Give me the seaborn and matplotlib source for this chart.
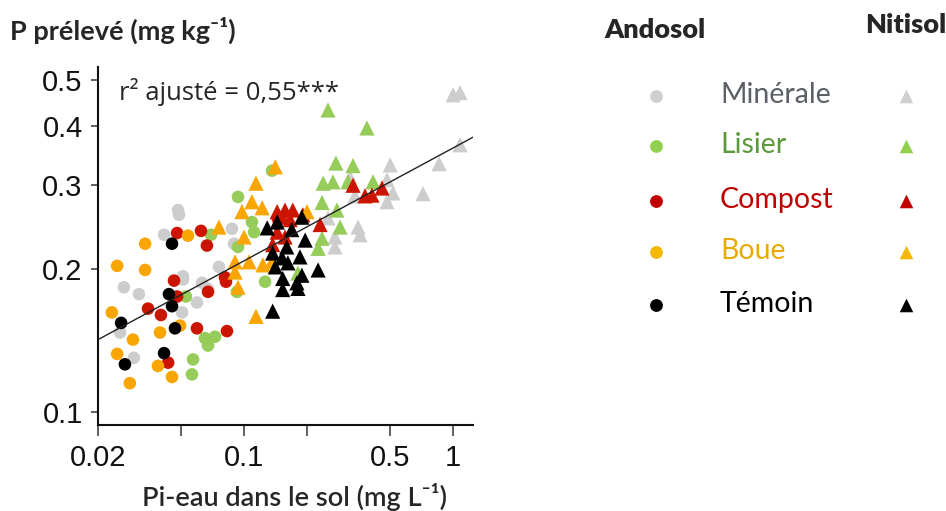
import numpy as np
import pandas as pd
import matplotlib
matplotlib.use("Agg")
import matplotlib.pyplot as plt
import seaborn as sns
from matplotlib.ticker import FixedLocator, FixedFormatter, NullLocator

# ---------------- data ----------------
treatments = ["Minérale", "Lisier", "Compost", "Boue", "Témoin"]

# Andosol (circles)
ando_min_x = [0.0483, 0.0488, 0.0414, 0.0875, 0.0895, 0.0758, 0.051, 0.051, 0.0266, 0.0314, 0.0595, 0.0629, 0.0672, 0.0505, 0.0255, 0.0297]
ando_min_y = [0.266, 0.260, 0.236, 0.243, 0.226, 0.202, 0.193, 0.190, 0.183, 0.177, 0.170, 0.187, 0.1815, 0.162, 0.147, 0.130]
ando_lis_x = [0.136, 0.0935, 0.109, 0.1116, 0.0695, 0.0935, 0.0925, 0.126, 0.0527, 0.065, 0.0726, 0.0672, 0.057, 0.0563]
ando_lis_y = [0.322, 0.2835, 0.251, 0.239, 0.236, 0.2225, 0.179, 0.188, 0.175, 0.143, 0.144, 0.138, 0.129, 0.120]
ando_com_x = [0.0478, 0.0622, 0.0664, 0.0462, 0.0478, 0.0672, 0.081, 0.0819, 0.0347, 0.040, 0.0595, 0.0828, 0.0433, 0.145]
ando_com_y = [0.238, 0.2405, 0.224, 0.189, 0.175, 0.179, 0.192, 0.188, 0.165, 0.160, 0.150, 0.148, 0.127, 0.255]
ando_bou_x = [0.0247, 0.0336, 0.0336, 0.0539, 0.0233, 0.0494, 0.0294, 0.0396, 0.0247, 0.0387, 0.0284, 0.0452]
ando_bou_y = [0.203, 0.226, 0.199, 0.235, 0.162, 0.152, 0.142, 0.147, 0.1325, 0.125, 0.115, 0.1185]
ando_tem_x = [0.0452, 0.0437, 0.0452, 0.0258, 0.0467, 0.0414, 0.0269]
ando_tem_y = [0.226, 0.177, 0.167, 0.154, 0.150, 0.133, 0.126]

# Nitisol (triangles)
niti_min_x = [1.0, 1.079, 1.079, 0.857, 0.5, 0.483, 0.516, 0.718, 0.483, 0.339, 0.321, 0.351, 0.359, 0.272, 0.272, 0.252]
niti_min_y = [0.465, 0.470, 0.365, 0.333, 0.331, 0.308, 0.289, 0.288, 0.277, 0.285, 0.312, 0.245, 0.236, 0.2335, 0.2225, 0.256]
niti_lis_x = [0.252, 0.387, 0.275, 0.332, 0.239, 0.266, 0.314, 0.414, 0.236, 0.278, 0.288, 0.236, 0.226, 0.181]
niti_lis_y = [0.432, 0.396, 0.334, 0.330, 0.303, 0.305, 0.305, 0.305, 0.276, 0.266, 0.245, 0.232, 0.221, 0.196]
niti_com_x = [0.144, 0.157, 0.171, 0.191, 0.152, 0.166, 0.231, 0.144, 0.157, 0.137, 0.332, 0.409, 0.457, 0.379]
niti_com_y = [0.264, 0.266, 0.266, 0.260, 0.257, 0.254, 0.248, 0.239, 0.2335, 0.225, 0.300, 0.286, 0.296, 0.285]
niti_bou_x = [0.141, 0.114, 0.109, 0.122, 0.0977, 0.0758, 0.100, 0.200, 0.0905, 0.1056, 0.123, 0.0905, 0.0935, 0.114, 0.136]
niti_bou_y = [0.328, 0.303, 0.277, 0.269, 0.264, 0.245, 0.2335, 0.264, 0.207, 0.207, 0.204, 0.197, 0.183, 0.159, 0.207]
niti_tem_x = [0.129, 0.144, 0.189, 0.169, 0.196, 0.160, 0.137, 0.152, 0.185, 0.162, 0.141, 0.226, 0.189, 0.153, 0.179, 0.153, 0.181, 0.137]
niti_tem_y = [0.244, 0.251, 0.257, 0.242, 0.230, 0.2225, 0.216, 0.211, 0.212, 0.206, 0.202, 0.199, 0.194, 0.191, 0.187, 0.181, 0.182, 0.163]

# reported fit (log10 y = a + b log10 x)
fit_a = -0.4444
fit_b = 0.2374
r2_text = "r² ajusté = 0,55***"

x_ticks = [0.02, 0.05, 0.1, 0.2, 0.5, 1]
x_ticklabels = ["0.02", "", "0.1", "", "0.5", "1"]
y_ticks = [0.1, 0.2, 0.3, 0.4, 0.5]
y_ticklabels = ["0.1", "0.2", "0.3", "0.4", "0.5"]

colors = {"Minérale": "#cdcdcd", "Lisier": "#95cc5a", "Compost": "#cc1500",
          "Boue": "#f9a602", "Témoin": "#000000"}
legend_marker_colors = {"Minérale": "#cfcfcf", "Lisier": "#92d050", "Compost": "#c00000",
                        "Boue": "#f5b800", "Témoin": "#000000"}
label_colors = {"Minérale": "#5b5f66", "Lisier": "#5a9a3a", "Compost": "#c00000",
                "Boue": "#e8aa00", "Témoin": "#000000"}

ando = {"Minérale": (ando_min_x, ando_min_y), "Lisier": (ando_lis_x, ando_lis_y),
        "Compost": (ando_com_x, ando_com_y), "Boue": (ando_bou_x, ando_bou_y),
        "Témoin": (ando_tem_x, ando_tem_y)}
niti = {"Minérale": (niti_min_x, niti_min_y), "Lisier": (niti_lis_x, niti_lis_y),
        "Compost": (niti_com_x, niti_com_y), "Boue": (niti_bou_x, niti_bou_y),
        "Témoin": (niti_tem_x, niti_tem_y)}

def build(d, sol, order):
    rows = []
    for t in order:
        xs, ys = d[t]
        for a, b in zip(xs, ys):
            rows.append({"x": a, "y": b, "traitement": t, "sol": sol})
    return pd.DataFrame(rows)

df_a = build(ando, "Andosol", ["Minérale", "Lisier", "Compost", "Boue", "Témoin"])
df_n = build(niti, "Nitisol", ["Minérale", "Lisier", "Compost", "Boue", "Témoin"])

# ---------------- figure ----------------
sns.set_style("ticks")
plt.rcParams["font.family"] = ["Liberation Sans", "DejaVu Sans"]

W, H = 946, 511
fig = plt.figure(figsize=(W / 100, H / 100), dpi=100)
ax = fig.add_axes([98 / W, 1 - 425 / H, (473 - 98) / W, (425 - 67) / H])

sns.scatterplot(data=df_a, x="x", y="y", hue="traitement", palette=colors,
                marker="o", s=82, linewidth=0, legend=False, ax=ax, zorder=2)
sns.scatterplot(data=df_n, x="x", y="y", hue="traitement", palette=colors,
                marker="^", s=120, linewidth=0, legend=False, ax=ax, zorder=3)

ax.set_xscale("log")
ax.set_yscale("log")
ax.set_xlim(0.02, 1.245)
ax.set_ylim(0.0939, 0.532)

xl = np.array(ax.get_xlim())
ax.plot(xl, 10 ** (fit_a + fit_b * np.log10(xl)), color="#222222", lw=1.0, zorder=4)

ax.xaxis.set_major_locator(FixedLocator(x_ticks))
ax.xaxis.set_major_formatter(FixedFormatter(x_ticklabels))
ax.xaxis.set_minor_locator(NullLocator())
ax.yaxis.set_major_locator(FixedLocator(y_ticks))
ax.yaxis.set_major_formatter(FixedFormatter(y_ticklabels))
ax.yaxis.set_minor_locator(NullLocator())

for s in ["top", "right"]:
    ax.spines[s].set_visible(False)
for s in ["left", "bottom"]:
    ax.spines[s].set_color("#111111")
    ax.spines[s].set_linewidth(1.5)
ax.tick_params(axis="x", length=8, width=1.2, color="#444444", pad=6,
               labelsize=21, labelcolor="#111111")
ax.tick_params(axis="y", length=5, width=1.2, color="#444444", pad=6,
               labelsize=21, labelcolor="#111111")
ax.set_xlabel("")
ax.set_ylabel("")

ax.text(0.055, 0.93, r2_text, transform=ax.transAxes, fontsize=18.5,
        family=["Open Sans", "DejaVu Sans"], va="center", ha="left")

fig.text(10 / W, 1 - 30 / H, "P prélevé (mg kg⁻¹)", fontsize=19.5, fontweight="bold",
         family=["Lato", "DejaVu Sans"], va="center", ha="left")
fig.text(294 / W, 1 - 497 / H, "Pi-eau dans le sol (mg L⁻¹)", fontsize=19.5,
         fontweight="semibold", family=["Lato", "DejaVu Sans"], va="center", ha="center")

# ---------------- legend ----------------
lax = fig.add_axes([0, 0, 1, 1])
lax.set_xlim(0, 1)
lax.set_ylim(0, 1)
lax.axis("off")

fig.text(655 / W, 1 - 30 / H, "Andosol", fontsize=19.5, fontweight="heavy",
         family=["Lato", "DejaVu Sans"], ha="center", va="center")
fig.text(906 / W, 1 - 25 / H, "Nitisol", fontsize=19.5, fontweight="heavy",
         family=["Lato", "DejaVu Sans"], ha="center", va="center")

row_y = [96, 146, 201, 252, 305]
for t, yy in zip(treatments, row_y):
    yf = 1 - yy / H
    lax.scatter([656 / W], [yf], marker="o", s=85, color=legend_marker_colors[t], linewidth=0)
    lax.scatter([906 / W], [yf], marker="^", s=95, color=legend_marker_colors[t], linewidth=0)
    fig.text(720 / W, yf + 1 / H, t, fontsize=20.5, color=label_colors[t],
             family=["Lato", "DejaVu Sans"], ha="left", va="center")

fig.savefig("out.png", dpi=100)
